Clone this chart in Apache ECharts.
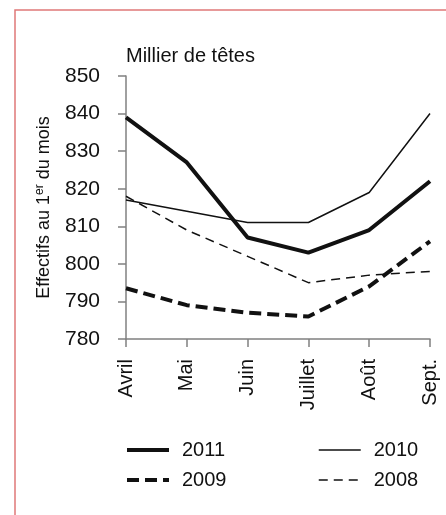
<!DOCTYPE html>
<html>
<head>
<meta charset="utf-8">
<script src="https://cdn.jsdelivr.net/npm/echarts@6/dist/echarts.min.js"></script>
<style>
  html, body { margin: 0; padding: 0; background: #fff; }
  #chart { width: 446px; height: 515px; }
</style>
</head>
<body>
<div id="chart"></div>
<script>
// mois (1er du mois)
const months = ['Avril', 'Mai', 'Juin', 'Juillet', 'Août', 'Sept.'];

// effectifs, milliers de têtes
const y2011 = [839, 827, 807, 803, 809, 822];
const y2010 = [817, 814, 811, 811, 819, 840];
const y2009 = [793.5, 789, 787, 786, 794, 806];
const y2008 = [818, 809, 802, 795, 797, 798];

const yTicks = [780, 790, 800, 810, 820, 830, 840, 850];

const font = 'Arial, "Liberation Sans", sans-serif';
const ink = '#111';

const chart = echarts.init(document.getElementById('chart'));

function serie(name, data, width, type) {
  return {
    name: name,
    type: 'line',
    data: data,
    symbol: 'none',
    lineStyle: { color: ink, width: width, type: type },
    itemStyle: { color: ink },
    emphasis: { disabled: true },
    animation: false
  };
}

const legendBase = {
  orient: 'vertical',
  padding: 0,
  itemWidth: 42,
  itemHeight: 14,
  itemGap: 10,
  itemStyle: { opacity: 0 },
  textStyle: { fontFamily: font, fontSize: 20, color: ink, padding: [0, 0, 0, 8] },
  selectedMode: false
};

chart.setOption({
  animation: false,
  grid: { left: 126, right: 16, top: 76, bottom: 176 },
  title: {
    text: 'Millier de têtes',
    left: 121, top: 41,
    textStyle: { fontFamily: font, fontSize: 20, fontWeight: 'normal', color: ink }
  },
  legend: [
    Object.assign({}, legendBase, {
      data: [{ name: '2011', lineStyle: { width: 4 } }, { name: '2009', lineStyle: { width: 4 } }],
      left: 125, top: 440
    }),
    Object.assign({}, legendBase, {
      data: [{ name: '2010', lineStyle: { width: 1.5 } }, { name: '2008', lineStyle: { width: 1.5 } }],
      left: 318, top: 440
    })
  ],
  xAxis: {
    type: 'category',
    data: months,
    boundaryGap: false,
    axisLine: { lineStyle: { color: '#808080', width: 1.5 } },
    axisTick: { length: 8, lineStyle: { color: '#808080', width: 1.5 } },
    axisLabel: { rotate: 90, margin: 20, fontFamily: font, fontSize: 20, color: ink }
  },
  yAxis: {
    type: 'value',
    min: yTicks[0],
    max: yTicks[yTicks.length - 1],
    interval: 10,
    name: 'Effectifs au 1{sup|er} du mois',
    nameLocation: 'middle',
    nameRotate: 90,
    nameGap: 72,
    nameTextStyle: {
      fontFamily: font, fontSize: 18, color: ink,
      rich: { sup: { fontFamily: font, fontSize: 12, color: ink, verticalAlign: 'top', padding: [0, 0, 8, 0] } }
    },
    splitLine: { show: false },
    axisLine: { show: true, lineStyle: { color: '#808080', width: 1.5 } },
    axisTick: { show: true, length: 8, lineStyle: { color: '#808080', width: 1.5 } },
    axisLabel: { margin: 26, fontFamily: font, fontSize: 21, color: ink }
  },
  graphic: [{
    type: 'rect',
    shape: { x: 15, y: 10, width: 450, height: 520 },
    style: { fill: 'none', stroke: '#e07878', lineWidth: 1.5 },
    silent: true
  }],
  series: [
    serie('2011', y2011, 4, 'solid'),
    serie('2010', y2010, 1.5, 'solid'),
    serie('2009', y2009, 4, [12, 6]),
    serie('2008', y2008, 1.5, [9, 6])
  ]
});
</script>
</body>
</html>
